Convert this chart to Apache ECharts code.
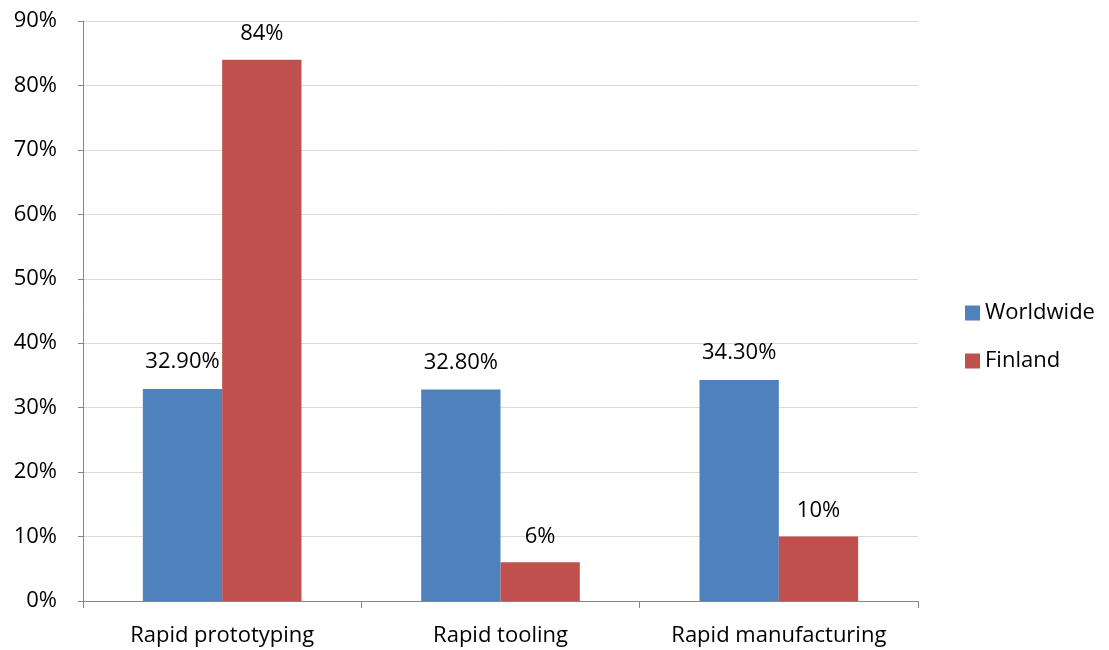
<!DOCTYPE html>
<html><head><meta charset="utf-8">
<script src="https://cdn.jsdelivr.net/npm/echarts@6/dist/echarts.min.js"></script>
<style>html,body{margin:0;padding:0;background:#fff}#c{width:1109px;height:650px}</style>
</head><body><div id="c"></div>
<script>
const categories = ['Rapid prototyping', 'Rapid tooling', 'Rapid manufacturing'];
const worldwide = [32.9, 32.8, 34.3];
const finland = [84, 6, 10];
const yTicks = [0, 10, 20, 30, 40, 50, 60, 70, 80, 90];

const FONT = 'Open Sans';
const FS = 22;
const chart = echarts.init(document.getElementById('c'));
chart.setOption({
  animation: false,
  textStyle: { fontFamily: FONT },
  grid: { left: 83, right: 191, top: 21, bottom: 49 },
  legend: {
    orient: 'vertical', left: 960, top: 297,
    itemWidth: 15, itemHeight: 15, itemGap: 26,
    icon: 'rect',
    textStyle: { fontSize: FS, color: '#000', fontFamily: FONT },
    data: ['Worldwide', 'Finland']
  },
  xAxis: {
    type: 'category', data: categories,
    axisLine: { lineStyle: { color: '#868686', width: 1 } },
    axisTick: { show: true, length: 7, interval: 0, alignWithLabel: false, lineStyle: { color: '#868686' } },
    axisLabel: { fontSize: FS, color: '#000', margin: 24, interval: 0, fontFamily: FONT }
  },
  yAxis: {
    type: 'value', min: 0, max: 90, interval: 10,
    axisLine: { show: true, lineStyle: { color: '#868686', width: 1 } },
    axisTick: { show: true, length: 5, lineStyle: { color: '#868686' } },
    splitLine: { lineStyle: { color: '#D9D9D9', width: 1 } },
    axisLabel: { fontSize: FS, color: '#000', margin: 26, fontFamily: FONT,
      formatter: v => yTicks.includes(v) ? v + '%' : '' }
  },
  series: [
    { name: 'Worldwide', type: 'bar', data: worldwide, barGap: '0%', barCategoryGap: '43%',
      itemStyle: { color: '#4F81BD' },
      label: { show: true, position: 'top', distance: 16, fontSize: FS, color: '#000', fontFamily: FONT,
        formatter: p => p.value.toFixed(2) + '%' } },
    { name: 'Finland', type: 'bar', data: finland, barGap: '0%', barCategoryGap: '43%',
      itemStyle: { color: '#C0504D' },
      label: { show: true, position: 'top', distance: 15, fontSize: FS, color: '#000', fontFamily: FONT,
        formatter: p => p.value + '%' } }
  ]
});
</script></body></html>
